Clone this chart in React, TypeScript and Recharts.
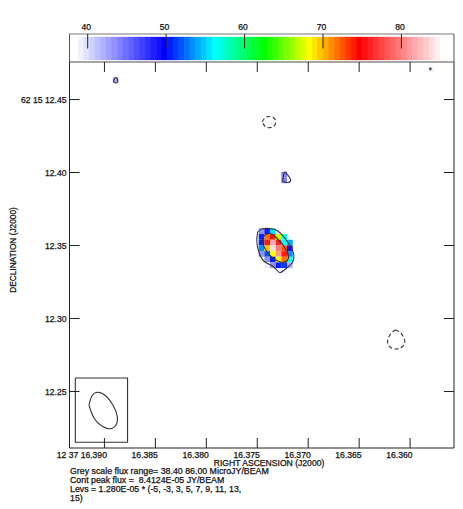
import {
  Bar,
  BarChart,
  Cell,
  ComposedChart,
  Scatter,
  XAxis,
  YAxis,
} from 'recharts'

const FONT = '"Liberation Sans", Arial, sans-serif'
const INK = '#222'

// colour wedge, one entry per grey level
const wedgeColors = [
  '#f0f0ff', '#e0e0ff', '#d0d0ff', '#c0c0ff', '#b0b0ff', '#a0a0ff', '#9090ff', '#8080ff',
  '#7070ff', '#6060ff', '#5050ff', '#4040ff', '#3030ff', '#2020ff', '#1010ff', '#0000ff',
  '#001cff', '#0039ff', '#0055ff', '#0071ff', '#008eff', '#00aaff', '#00c6ff', '#00e3ff', '#00ffff',
  '#00ffe3', '#00ffc6', '#00ffaa', '#00ff8e', '#00ff71', '#00ff55', '#00ff39', '#00ff1c', '#00ff00',
  '#20ff00', '#40ff00', '#60ff00', '#80ff00', '#9fff00', '#bfff00', '#dfff00', '#ffff00',
  '#ffe300', '#ffc600', '#ffaa00', '#ff8e00', '#ff7100', '#ff5500', '#ff3900', '#ff1c00', '#ff0000',
  '#ff1111', '#ff2222', '#ff3333', '#ff4444', '#ff5555', '#ff6666', '#ff7777', '#ff8888', '#ff9999',
  '#ffaaaa', '#ffbbbb', '#ffcccc', '#ffdddd', '#ffeeee', '#ffffff',
]
const wedgeTicks = [40, 50, 60, 70, 80]
const FLUX_MIN = 38.4
const FLUX_MAX = 86

const raTicks = [16.39, 16.385, 16.38, 16.375, 16.37, 16.365, 16.36]
const decTicks = [12.25, 12.3, 12.35, 12.4, 12.45]
const raDomain = [16.35569, 16.39343]
const decDomain = [12.2113, 12.4757]

// central source image, microJy/beam
const heatRa = [16.37458, 16.37402, 16.37347, 16.37291, 16.37236, 16.3718, 16.37124]
const heatDec = [12.3598, 12.3559, 12.352, 12.3481, 12.3442, 12.3404, 12.3365, 12.3326]
const heatFlux = [
  [43, 50, 55, 39, null, null, null],
  [50, 72, 74, 67, 56, null, null],
  [50, 74, 82, 76, 56, 54, null],
  [53, 70, 84, 80, 73, 49, null],
  [43, 52, 68, 81, 74, 53, null],
  [null, 43, 50, 68, 72, 56, null],
  [null, 39, 43, 50, 51, 42, null],
  [null, null, null, 39, 39, null, null],
]

const faintPixels = [
  { ra: 16.3889, dec: 12.46336, flux: 42 },
  { ra: 16.37236, dec: 12.3985, flux: 44 },
  { ra: 16.37236, dec: 12.3946, flux: 44 },
  { ra: 16.35802, dec: 12.47089, flux: 39 },
]

const outerContour = [
  { ra: 16.37495, dec: 12.35925 }, { ra: 16.37456, dec: 12.36131 }, { ra: 16.37377, dec: 12.36165 },
  { ra: 16.37299, dec: 12.35994 }, { ra: 16.3723, dec: 12.35514 }, { ra: 16.37172, dec: 12.34898 },
  { ra: 16.37142, dec: 12.34418 }, { ra: 16.37152, dec: 12.3387 }, { ra: 16.37211, dec: 12.33459 },
  { ra: 16.37279, dec: 12.33151 }, { ra: 16.37338, dec: 12.33528 }, { ra: 16.37436, dec: 12.33939 },
  { ra: 16.3749, dec: 12.34692 }, { ra: 16.37505, dec: 12.35377 }, { ra: 16.37495, dec: 12.35925 },
]
const innerContour = [
  { ra: 16.37436, dec: 12.35651 }, { ra: 16.37377, dec: 12.35822 }, { ra: 16.37309, dec: 12.35514 },
  { ra: 16.3724, dec: 12.34966 }, { ra: 16.37196, dec: 12.3435 }, { ra: 16.37211, dec: 12.33939 },
  { ra: 16.3727, dec: 12.3387 }, { ra: 16.37348, dec: 12.34144 }, { ra: 16.37417, dec: 12.34692 },
  { ra: 16.37446, dec: 12.3524 }, { ra: 16.37436, dec: 12.35651 },
]
const northContour = [
  { ra: 16.38908, dec: 12.46336 }, { ra: 16.3889, dec: 12.46507 }, { ra: 16.38872, dec: 12.4637 },
  { ra: 16.38872, dec: 12.462 }, { ra: 16.3889, dec: 12.4613 }, { ra: 16.38908, dec: 12.4622 },
  { ra: 16.38908, dec: 12.46336 },
]
const middleContour = [
  { ra: 16.3725, dec: 12.39384 }, { ra: 16.3724, dec: 12.39897 }, { ra: 16.37225, dec: 12.40034 },
  { ra: 16.37201, dec: 12.39829 }, { ra: 16.37172, dec: 12.39487 }, { ra: 16.37201, dec: 12.39315 },
  { ra: 16.3725, dec: 12.39384 },
]
const cornerContour = [
  { ra: 16.3581, dec: 12.47089 }, { ra: 16.35802, dec: 12.4715 }, { ra: 16.35794, dec: 12.47089 },
  { ra: 16.35802, dec: 12.4703 }, { ra: 16.3581, dec: 12.47089 },
]
const negativeContourA = [
  { ra: 16.37451, dec: 12.43459 }, { ra: 16.37426, dec: 12.43733 }, { ra: 16.37387, dec: 12.43836 },
  { ra: 16.37338, dec: 12.43733 }, { ra: 16.37319, dec: 12.43459 }, { ra: 16.37338, dec: 12.43185 },
  { ra: 16.37387, dec: 12.43069 }, { ra: 16.37426, dec: 12.43185 }, { ra: 16.37451, dec: 12.43459 },
]
const negativeContourB = [
  { ra: 16.36145, dec: 12.29213 }, { ra: 16.36093, dec: 12.29008 }, { ra: 16.36054, dec: 12.28528 },
  { ra: 16.36069, dec: 12.28117 }, { ra: 16.36132, dec: 12.27912 }, { ra: 16.36196, dec: 12.28049 },
  { ra: 16.36221, dec: 12.2846 }, { ra: 16.36191, dec: 12.28939 }, { ra: 16.36145, dec: 12.29213 },
]
const beamBox = [
  { ra: 16.39286, dec: 12.25926 }, { ra: 16.38773, dec: 12.25926 }, { ra: 16.38773, dec: 12.21522 },
  { ra: 16.39286, dec: 12.21522 }, { ra: 16.39286, dec: 12.25926 },
]
const beamEllipse = [
  { ra: 16.39152, dec: 12.24076 }, { ra: 16.39123, dec: 12.24693 }, { ra: 16.39064, dec: 12.24946 },
  { ra: 16.38985, dec: 12.24693 }, { ra: 16.38917, dec: 12.24076 }, { ra: 16.38875, dec: 12.23323 },
  { ra: 16.38887, dec: 12.22706 }, { ra: 16.38946, dec: 12.22453 }, { ra: 16.39025, dec: 12.22638 },
  { ra: 16.39103, dec: 12.23186 }, { ra: 16.39152, dec: 12.24076 },
]

const footerLines = [
  'Grey scale flux range= 38.40 86.00 MicroJY/BEAM',
  'Cont peak flux =  8.4124E-05 JY/BEAM',
  'Levs = 1.280E-05 * (-5, -3, 3, 5, 7, 9, 11, 13,',
  '15)',
]

const wedgeData = wedgeColors.map((color, level) => ({
  level,
  flux: FLUX_MIN + ((level + 0.5) / wedgeColors.length) * (FLUX_MAX - FLUX_MIN),
  fill: 1,
  color,
}))
const heatCells = heatFlux.flatMap((row, r) =>
  row.flatMap((flux, c) => (flux === null ? [] : [{ ra: heatRa[c], dec: heatDec[r], flux }])),
)

const fluxColor = (flux: number) => {
  const level = Math.floor(((flux - FLUX_MIN) / (FLUX_MAX - FLUX_MIN)) * wedgeColors.length)
  return wedgeColors[Math.max(0, Math.min(wedgeColors.length - 1, level))]
}

const PIXEL = 5.7
const PixelSquare = (props: any) => (
  <rect
    x={props.cx - PIXEL / 2}
    y={props.cy - PIXEL / 2}
    width={PIXEL}
    height={PIXEL}
    fill={fluxColor(props.payload.flux)}
  />
)
const NoDot = () => null

const textProps = { fontFamily: FONT, fontSize: 8.6, fill: '#111', stroke: '#111', strokeWidth: 0.25 }
const htmlText = {
  position: 'absolute' as const,
  whiteSpace: 'pre' as const,
  fontFamily: FONT,
  color: '#111',
  WebkitTextStroke: '0.25px #111',
}

const BottomTick = ({ x, y, payload, index }: any) => (
  <g>
    <line x1={x} x2={x} y1={y} y2={y - 10} stroke={INK} />
    <text x={x + 2.5} y={y + 10} textAnchor="end" {...textProps}>
      {index === 0 ? '12 37 ' : ''}
      {payload.value.toFixed(3)}
    </text>
  </g>
)
const TopTick = ({ x, y }: any) => <line x1={x} x2={x} y1={y} y2={y + 10} stroke={INK} />
const LeftTick = ({ x, y, payload }: any) => (
  <g>
    <line x1={x} x2={x + 10} y1={y} y2={y} stroke={INK} />
    <text x={x - 3} y={y + 3} textAnchor="end" {...textProps}>
      {payload.value === 12.45 ? '62 15 ' : ''}
      {payload.value.toFixed(2)}
    </text>
  </g>
)
const RightTick = ({ x, y }: any) => <line x1={x} x2={x - 10} y1={y} y2={y} stroke={INK} />
const WedgeTick = ({ x, y, payload }: any) => (
  <g>
    <line x1={x} x2={x} y1={y} y2={y + 14.5} stroke={INK} />
    <text x={x - 1.5} y={y - 4} textAnchor="middle" {...textProps}>
      {payload.value}
    </text>
  </g>
)

const contourLine = { stroke: '#333', strokeWidth: 1.1 }
const dashedLine = { stroke: '#333', strokeWidth: 1.1, strokeDasharray: '4 2.5' }

function App() {
  return (
    <div style={{ position: 'absolute', left: 0, top: 0, width: 463, height: 509, background: '#fff' }}>
      <div style={{ position: 'absolute', left: 0, top: 0 }}>
        <BarChart
          width={463}
          height={70}
          data={wedgeData}
          margin={{ top: 33, right: 8, bottom: 8, left: 68.5 }}
          barCategoryGap={0}
        >
          <XAxis xAxisId="band" dataKey="level" hide padding={{ left: 8.8, right: 8.3 }} />
          <XAxis
            xAxisId="flux"
            dataKey="flux"
            type="number"
            orientation="top"
            height={1}
            domain={[37.68, 86.7]}
            ticks={wedgeTicks}
            axisLine={{ stroke: '#777' }}
            tickLine={false}
            tickSize={0}
            tickMargin={0}
            tick={<WedgeTick />}
            allowDataOverflow
          />
          <YAxis yAxisId="left" width={1} domain={[-0.087, 1.13]} tick={false} axisLine={{ stroke: '#555' }} tickLine={false} />
          <YAxis yAxisId="right" orientation="right" width={1} domain={[-0.087, 1.13]} tick={false} axisLine={{ stroke: '#555' }} tickLine={false} />
          <Bar xAxisId="band" yAxisId="left" dataKey="fill" isAnimationActive={false}>
            {wedgeData.map((entry) => (
              <Cell key={entry.level} fill={entry.color} stroke={entry.color} strokeWidth={0.3} />
            ))}
          </Bar>
        </BarChart>
      </div>
      <div style={{ position: 'absolute', left: 0, top: 0 }}>
        <ComposedChart
          width={463}
          height={509}
          margin={{ top: 61, right: 8, bottom: 60, left: 68.5 }}
        >
          <XAxis
            xAxisId="bottom"
            dataKey="ra"
            type="number"
            reversed
            height={1}
            domain={raDomain}
            ticks={raTicks}
            interval={0}
            axisLine={{ stroke: INK }}
            tickLine={false}
            tickSize={0}
            tickMargin={0}
            tick={<BottomTick />}
            allowDataOverflow
          />
          <XAxis
            xAxisId="top"
            dataKey="ra"
            type="number"
            reversed
            orientation="top"
            height={1}
            domain={raDomain}
            ticks={raTicks}
            interval={0}
            axisLine={{ stroke: '#888', strokeWidth: 1.5 }}
            tickLine={false}
            tickSize={0}
            tickMargin={0}
            tick={<TopTick />}
            allowDataOverflow
          />
          <YAxis
            yAxisId="left"
            dataKey="dec"
            type="number"
            width={1}
            domain={decDomain}
            ticks={decTicks}
            interval={0}
            axisLine={{ stroke: INK }}
            tickLine={false}
            tickSize={0}
            tickMargin={0}
            tick={<LeftTick />}
            allowDataOverflow
          />
          <YAxis
            yAxisId="right"
            dataKey="dec"
            type="number"
            orientation="right"
            width={1}
            domain={decDomain}
            ticks={decTicks}
            interval={0}
            axisLine={{ stroke: INK }}
            tickLine={false}
            tickSize={0}
            tickMargin={0}
            tick={<RightTick />}
            allowDataOverflow
          />
          <Scatter xAxisId="bottom" yAxisId="left" data={heatCells} shape={<PixelSquare />} isAnimationActive={false} />
          <Scatter xAxisId="bottom" yAxisId="left" data={faintPixels} shape={<PixelSquare />} isAnimationActive={false} />
          {[outerContour, innerContour, northContour, middleContour, cornerContour, beamEllipse].map((points, i) => (
            <Scatter
              key={i}
              xAxisId="bottom"
              yAxisId="left"
              data={points}
              shape={<NoDot />}
              line={contourLine}
              lineJointType="natural"
              isAnimationActive={false}
            />
          ))}
          {[negativeContourA, negativeContourB].map((points, i) => (
            <Scatter
              key={i}
              xAxisId="bottom"
              yAxisId="left"
              data={points}
              shape={<NoDot />}
              line={dashedLine}
              lineJointType="natural"
              isAnimationActive={false}
            />
          ))}
          <Scatter
            xAxisId="bottom"
            yAxisId="left"
            data={beamBox}
            shape={<NoDot />}
            line={contourLine}
            isAnimationActive={false}
          />
        </ComposedChart>
      </div>
      <div style={{ ...htmlText, left: 169, top: 459, width: 200, textAlign: 'center', fontSize: 8.6, lineHeight: '9px' }}>
        RIGHT ASCENSION (J2000)
      </div>
      <div
        style={{
          ...htmlText,
          left: 13,
          top: 250,
          transform: 'translate(-50%, -50%) rotate(-90deg)',
          fontSize: 8.3,
          lineHeight: '10px',
        }}
      >
        DECLINATION (J2000)
      </div>
      <div style={{ ...htmlText, left: 70, top: 467, fontSize: 8.8, lineHeight: '9px' }}>
        {footerLines.join('\n')}
      </div>
    </div>
  )
}

export default App
